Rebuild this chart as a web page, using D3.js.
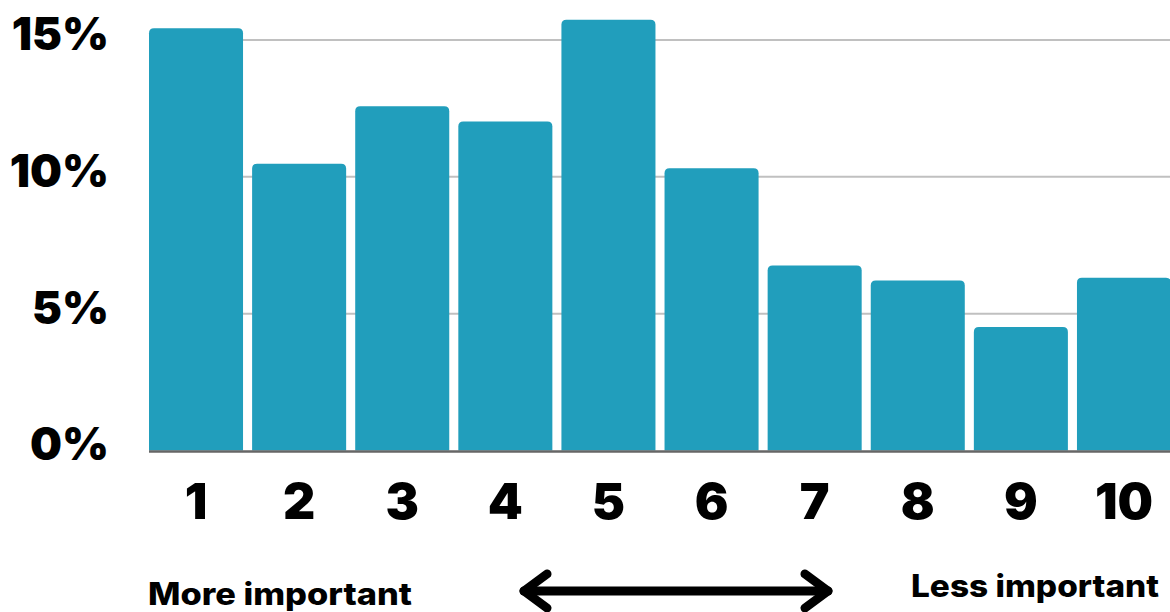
<!DOCTYPE html>
<html>
<head>
<meta charset="utf-8">
<script src="https://cdn.jsdelivr.net/npm/d3@7/dist/d3.min.js"></script>
<style>
  html, body { margin: 0; padding: 0; background: #fff; }
  svg { display: block; }
  text { font-family: Inter, "Open Sans", sans-serif; font-weight: 800; fill: #000; }
</style>
</head>
<body>
<svg id="chart" width="1170" height="612"></svg>
<script>
// Share of responses by importance rank (1 = most important)
const ranks = ["1", "2", "3", "4", "5", "6", "7", "8", "9", "10"];
const shares = [15.43, 10.48, 12.58, 12.02, 15.74, 10.31, 6.76, 6.21, 4.51, 6.31];
const yTicks = [0, 5, 10, 15];
const leftCaption = "More important";
const rightCaption = "Less important";

const svg = d3.select("#chart");
const W = 1170;

const x = d3.scaleBand()
  .domain(ranks)
  .range([149, 1171])
  .paddingInner(0.088)
  .paddingOuter(0);

const y = d3.scaleLinear()
  .domain([0, 15])
  .range([450.5, 40]);

// Horizontal gridlines
svg.append("g")
  .selectAll("line")
  .data(yTicks.filter(d => d > 0))
  .join("line")
  .attr("x1", 149).attr("x2", W)
  .attr("y1", d => y(d)).attr("y2", d => y(d))
  .attr("stroke", "#c0c0c0")
  .attr("stroke-width", 2);

// Y axis labels
const yAxis = d3.axisLeft(y).tickValues(yTicks).tickFormat(d => d + "%").tickSize(0).tickPadding(0);
const yg = svg.append("g").attr("transform", "translate(109,-5)").call(yAxis);
yg.select(".domain").remove();
yg.selectAll("text")
  .attr("font-size", 45)
  .attr("font-family", null)
  .style("font-family", "Inter, sans-serif")
  .style("font-weight", 900)
  .attr("fill", "#000");

// Bars with rounded top corners
const r = 5;
function barPath(d, i) {
  const x0 = x(ranks[i]), x1 = x0 + x.bandwidth();
  const y0 = y(0), y1 = y(d);
  return `M${x0},${y0}V${y1 + r}Q${x0},${y1} ${x0 + r},${y1}H${x1 - r}Q${x1},${y1} ${x1},${y1 + r}V${y0}Z`;
}
svg.append("g")
  .selectAll("path")
  .data(shares)
  .join("path")
  .attr("d", barPath)
  .attr("fill", "#219ebc");

// Baseline
svg.append("line")
  .attr("x1", 149).attr("x2", W)
  .attr("y1", y(0) + 1).attr("y2", y(0) + 1)
  .attr("stroke", "#666")
  .attr("stroke-width", 2.5);

// X axis labels
const xAxis = d3.axisBottom(x).tickSize(0).tickPadding(0);
const xg = svg.append("g").attr("transform", "translate(0,519)").call(xAxis);
xg.select(".domain").remove();
xg.selectAll("text")
  .attr("dy", 0)
  .attr("font-size", 50)
  .attr("font-family", null)
  .style("font-family", "Inter, sans-serif")
  .style("font-weight", 900)
  .attr("fill", "#000");

// Captions
svg.append("text")
  .attr("x", 148).attr("y", 605)
  .attr("font-size", 31)
  .attr("textLength", 264)
  .attr("lengthAdjust", "spacingAndGlyphs")
  .style("font-weight", 800)
  .text(leftCaption);
svg.append("text")
  .attr("x", 911).attr("y", 597)
  .attr("font-size", 31)
  .attr("textLength", 248)
  .attr("lengthAdjust", "spacingAndGlyphs")
  .style("font-weight", 800)
  .text(rightCaption);

// Double-headed arrow between the captions
const arrow = svg.append("g")
  .attr("stroke", "#000")
  .attr("stroke-width", 9)
  .attr("stroke-linecap", "round")
  .attr("stroke-linejoin", "round")
  .attr("fill", "none");
arrow.append("line").attr("x1", 524).attr("x2", 828).attr("y1", 591).attr("y2", 591);
arrow.append("path").attr("d", "M547,574L524,591L547,608");
arrow.append("path").attr("d", "M805,574L828,591L805,608");
</script>
</body>
</html>
